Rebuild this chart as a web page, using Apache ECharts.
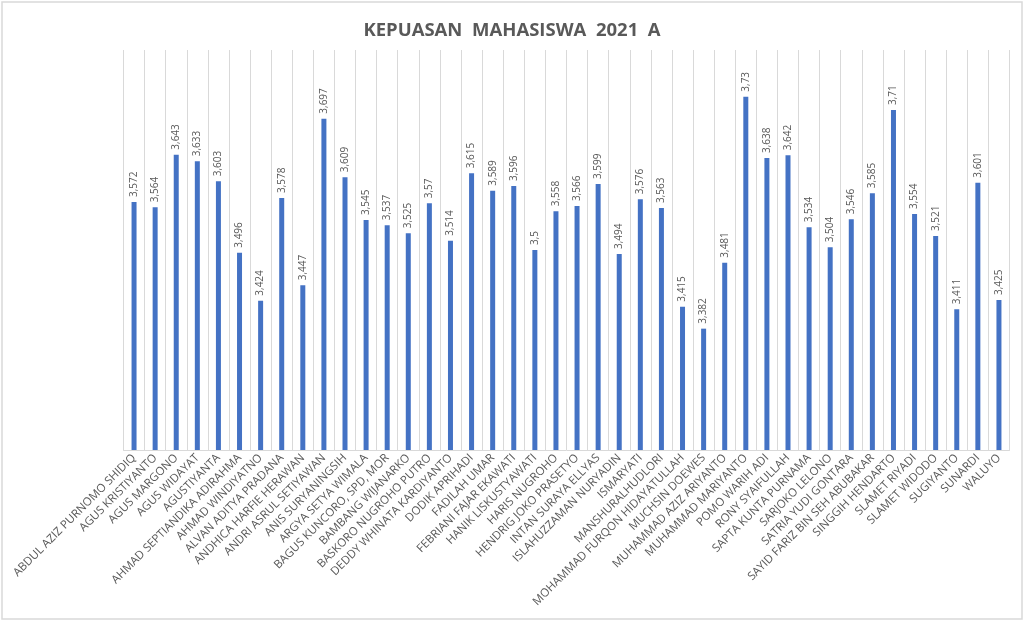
<!DOCTYPE html>
<html>
<head>
<meta charset="utf-8">
<title>Kepuasan Mahasiswa 2021 A</title>
<script src="https://cdn.jsdelivr.net/npm/echarts@6/dist/echarts.min.js"></script>
<style>
  html, body { margin: 0; padding: 0; background: #fff; }
  #chart { width: 1024px; height: 622px; }
</style>
</head>
<body>
<div id="chart"></div>
<script>
var names = ['ABDUL AZIZ PURNOMO SHIDIQ', 'AGUS KRISTIYANTO', 'AGUS MARGONO', 'AGUS WIDAYAT', 'AGUSTIYANTA',
    'AHMAD SEPTIANDIKA ADIRAHMA', 'AHMAD WINDIYATNO', 'ALVAN ADITYA PRADANA', 'ANDHICA HARFIE HERAWAN',
    'ANDRI ASRUL SETIYAWAN', 'ANIS SURYANINGSIH', 'ARGYA SETYA WIMALA', 'BAGUS KUNCORO, SPD, MOR',
    'BAMBANG WIJANARKO', 'BASKORO NUGROHO PUTRO', 'DEDDY WHINATA KARDIYANTO', 'DODIK APRIHADI',
    'FADILAH UMAR', 'FEBRIANI FAJAR EKAWATI', 'HANIK LISKUSTYAWATI', 'HARIS NUGROHO',
    'HENDRIG JOKO PRASETYO', 'INTAN SURAYA ELLYAS', 'ISLAHUZZAMAN NURYADIN', 'ISMARYATI',
    'MANSHURALHUDLORI', 'MOHAMMAD FURQON HIDAYATULLAH', 'MUCHSIN DOEWES', 'MUHAMMAD AZIZ ARIYANTO',
    'MUHAMMAD MARIYANTO', 'POMO WARIH ADI', 'RONY SYAIFULLAH', 'SAPTA KUNTA PURNAMA', 'SARJOKO LELONO',
    'SATRIA YUDI GONTARA', 'SAYID FARIZ BIN SEH ABUBAKAR', 'SINGGIH HENDARTO', 'SLAMET RIYADI',
    'SLAMET WIDODO', 'SUGIYANTO', 'SUNARDI', 'WALUYO'];

var scores = [3.572, 3.564, 3.643, 3.633, 3.603, 3.496, 3.424, 3.578, 3.447, 3.697,
    3.609, 3.545, 3.537, 3.525, 3.57, 3.514, 3.615, 3.589, 3.596, 3.5,
    3.558, 3.566, 3.599, 3.494, 3.576, 3.563, 3.415, 3.382, 3.481, 3.73,
    3.638, 3.642, 3.534, 3.504, 3.546, 3.585, 3.71, 3.554, 3.521, 3.411,
    3.601, 3.425];

var yMin = 3.2, yMax = 3.8;

var chart = echarts.init(document.getElementById('chart'));
var option = {
    backgroundColor: '#fff',
    animation: false,
    title: {
        text: 'KEPUASAN  MAHASISWA  2021  A',
        left: 'center',
        top: 16,
        textStyle: {
            fontFamily: 'Open Sans',
            fontWeight: 'bold',
            fontSize: 18.5,
            color: '#595959'
        }
    },
    graphic: [{
        type: 'rect',
        shape: { x: 2, y: 2, width: 1020, height: 617 },
        style: { fill: 'none', stroke: '#d9d9d9', lineWidth: 1.5 },
        silent: true
    }],
    grid: {
        left: 123.5,
        right: 14.5,
        top: 50,
        bottom: 172
    },
    xAxis: {
        type: 'category',
        data: names,
        axisLine: { lineStyle: { color: '#d9d9d9' } },
        axisTick: { show: false },
        splitLine: { show: true, interval: 0, lineStyle: { color: '#d9d9d9', width: 1 } },
        axisLabel: {
            interval: 0,
            rotate: 45,
            margin: 6,
            fontFamily: 'Open Sans',
            fontSize: 11.5,
            color: '#595959'
        }
    },
    yAxis: {
        type: 'value',
        min: yMin,
        max: yMax,
        show: false
    },
    series: [{
        type: 'bar',
        data: scores,
        barWidth: 5,
        itemStyle: { color: '#4472C4' },
        label: {
            show: true,
            position: 'top',
            rotate: 90,
            align: 'left',
            verticalAlign: 'middle',
            distance: 5,
            fontFamily: 'Open Sans',
            fontSize: 10,
            color: '#595959',
            formatter: function (p) {
                return String(p.value).replace('.', ',');
            }
        }
    }]
};
chart.setOption(option);
window.addEventListener('resize', function () {
    chart.resize();
});
</script>
</body>
</html>
